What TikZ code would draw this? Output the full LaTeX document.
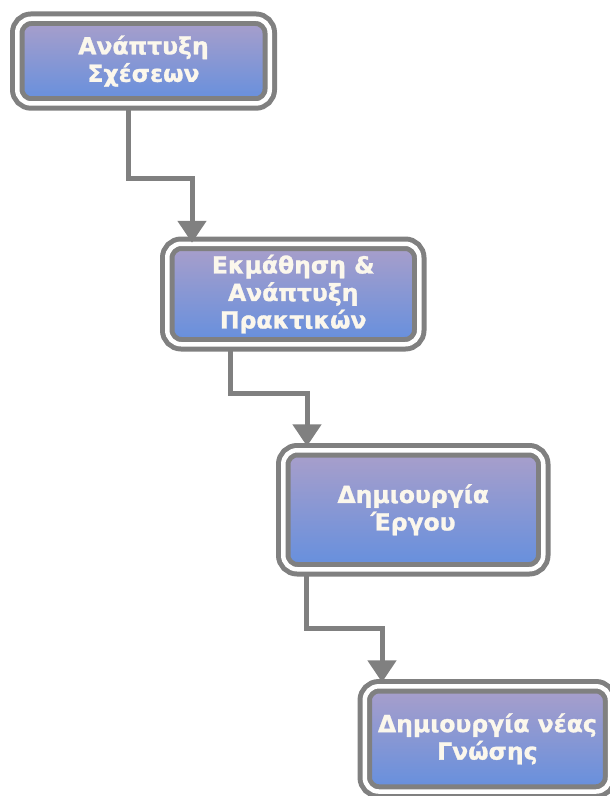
\documentclass[tikz,border=0pt]{standalone}
\usepackage{fontspec}
\setmainfont{DejaVu Sans}
\usetikzlibrary{arrows.meta,calc}

\definecolor{edgegray}{RGB}{128,128,128}
\definecolor{boxtop}{RGB}{170,159,202}
\definecolor{boxbottom}{RGB}{100,143,222}
\definecolor{labelcream}{RGB}{251,247,236}

\newcommand\stagefont{\fontsize{23.5}{27.5}\selectfont\bfseries\addfontfeatures{FakeBold=1.2}}

\tikzset{
  stage/.style={draw=edgegray, line width=5pt, double=white,
    double distance=4.5pt, rounded corners=14pt,
    top color=boxtop, bottom color=boxbottom,
    text=labelcream, font=\stagefont, align=center,
    inner sep=0pt, outer sep=0pt},
  conn/.style={draw=edgegray, line width=5pt,
    -{Triangle[width=28pt,length=22pt]}}
}

\begin{document}
\begin{tikzpicture}[x=1pt,y=-1pt]
  \fill[white] (0,0) rectangle (610,796);
  \useasboundingbox (0,0) rectangle (610,796);

  % process stages
  \node[stage, minimum width=252.5pt, minimum height=84.75pt] (b1) at (143.5,61.1) {Ανάπτυξη\\Σχέσεων};
  \node[stage, minimum width=252pt, minimum height=100.5pt]   (b2) at (293.25,294) {Εκμάθηση \&\\Ανάπτυξη\\Πρακτικών};
  \node[stage, minimum width=260pt, minimum height=119pt]     (b3) at (413.25,509.75) {Δημιουργία\\Έργου};
  \node[stage, minimum width=245.25pt, minimum height=105.25pt] (b4) at (487.4,738.9) {Δημιουργία νέας\\Γνώσης};

  % bend points of the elbow connectors
  \coordinate (s1) at (128,0);   \coordinate (k1) at (192,178);
  \coordinate (s2) at (230,0);   \coordinate (k2) at (307,393);
  \coordinate (s3) at (306,0);   \coordinate (k3) at (382,628);

  \draw[conn] ($(b1.south -| s1)+(0,7)$) -- (s1 |- k1) -- (k1) -- ($(b2.north -| k1)+(0,-1)$);
  \draw[conn] ($(b2.south -| s2)+(0,7)$) -- (s2 |- k2) -- (k2) -- ($(b3.north -| k2)+(0,-4)$);
  \draw[conn] ($(b3.south -| s3)+(0,7)$) -- (s3 |- k3) -- (k3) -- ($(b4.north -| k3)+(0,-4)$);
\end{tikzpicture}
\end{document}
